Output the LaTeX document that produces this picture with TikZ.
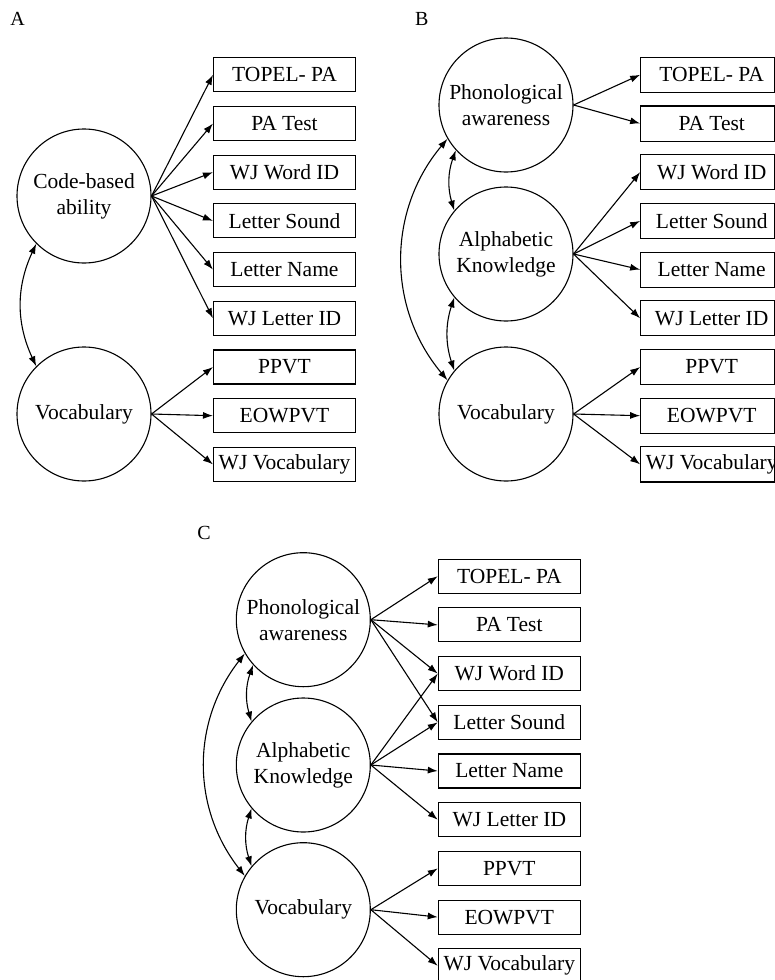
\documentclass[tikz,border=0pt]{standalone}
\usepackage{fontspec}
\setmainfont{Liberation Serif}
\usetikzlibrary{arrows.meta}
\begin{document}
\begin{tikzpicture}[x=1pt,y=1pt,
  lat/.style={circle,draw,line width=1.1pt,minimum size=134pt,inner sep=0pt,align=center,font=\fontsize{21.5}{26}\selectfont},
  ind/.style={rectangle,draw,line width=1.1pt,minimum width=142pt,minimum height=34pt,inner sep=0pt,font=\fontsize{21.5}{25}\selectfont},
  indB/.style={ind,draw=none},
  load/.style={-{Latex[length=10pt,width=7pt]},line width=1.1pt},
  cov/.style={{Latex[length=10pt,width=7pt]}-{Latex[length=10pt,width=7pt]},line width=1.1pt},
  plabel/.style={font=\fontsize{20}{22}\selectfont}]
\useasboundingbox (0,0) rectangle (775,-980);

% ---------------- Panel A ----------------
\node[plabel] (labA) at (17.5,-19) {A};
\node[lat] (a1) at (84,-196) {Code-based\\ability};
\node[lat] (a2) at (84,-414) {Vocabulary};
\node[ind] (aT1) at (284.5,-74.8) {TOPEL- PA};
\node[ind] (aT2) at (284.5,-123.5) {PA Test};
\node[ind] (aT3) at (284.5,-172.2) {WJ Word ID};
\node[ind] (aT4) at (284.5,-220.9) {Letter Sound};
\node[ind] (aT5) at (284.5,-269.6) {Letter Name};
\node[ind] (aT6) at (284.5,-318.3) {WJ Letter ID};
\node[ind] (aT7) at (284.5,-367.0) {PPVT};
\node[ind] (aT8) at (284.5,-415.7) {EOWPVT};
\node[ind] (aT9) at (284.5,-464.4) {WJ Vocabulary};
\foreach \t in {aT1,aT2,aT3,aT4,aT5,aT6} \draw[load] (a1.east) -- (\t.west);
\foreach \t in {aT7,aT8,aT9} \draw[load] (a2.east) -- (\t.west);
\draw[cov] (a1.225) to[bend right=25] (a2.135);

% ---------------- Panel B ----------------
\node[plabel] (labB) at (421.7,-19) {B};
\node[lat] (b1) at (506,-105) {Phonological\\awareness};
\node[lat] (b2) at (506,-254) {Alphabetic\\Knowledge};
\node[lat] (b3) at (506,-414) {Vocabulary};
\node[indB] (bT1) at (711.7,-74.8) {TOPEL- PA};
\node[indB] (bT2) at (711.7,-123.5) {PA Test};
\node[indB] (bT3) at (711.7,-172.2) {WJ Word ID};
\node[indB] (bT4) at (711.7,-220.9) {Letter Sound};
\node[indB] (bT5) at (711.7,-269.6) {Letter Name};
\node[indB] (bT6) at (711.7,-318.3) {WJ Letter ID};
\node[indB] (bT7) at (711.7,-367.0) {PPVT};
\node[indB] (bT8) at (711.7,-415.7) {EOWPVT};
\node[indB] (bT9) at (711.7,-464.4) {WJ Vocabulary};
\foreach \t in {bT1,bT2,bT3,bT4,bT5,bT6,bT7,bT8,bT9}
  \draw[line width=1.1pt] (\t.south west) rectangle ([xshift=-8.5pt]\t.north east);
\foreach \t in {bT1,bT2} \draw[load] (b1.east) -- (\t.west);
\foreach \t in {bT3,bT4,bT5,bT6} \draw[load] (b2.east) -- (\t.west);
\foreach \t in {bT7,bT8,bT9} \draw[load] (b3.east) -- (\t.west);
\draw[cov] (b1.222) to[bend right=18] (b2.140);
\draw[cov] (b2.220) to[bend right=18] (b3.140);
\draw[cov] (b1.210) to[bend right=40] (b3.150);

% ---------------- Panel C ----------------
\node[plabel] (labC) at (204,-533) {C};
\node[lat] (c1) at (303.3,-619.7) {Phonological\\awareness};
\node[lat] (c2) at (303.3,-765) {Alphabetic\\Knowledge};
\node[lat] (c3) at (303.3,-909.7) {Vocabulary};
\node[ind] (cT1) at (509.3,-576.2) {TOPEL- PA};
\node[ind] (cT2) at (509.3,-624.9) {PA Test};
\node[ind] (cT3) at (509.3,-673.6) {WJ Word ID};
\node[ind] (cT4) at (509.3,-722.3) {Letter Sound};
\node[ind] (cT5) at (509.3,-771.0) {Letter Name};
\node[ind] (cT6) at (509.3,-819.7) {WJ Letter ID};
\node[ind] (cT7) at (509.3,-868.4) {PPVT};
\node[ind] (cT8) at (509.3,-917.1) {EOWPVT};
\node[ind] (cT9) at (509.3,-965.8) {WJ Vocabulary};
\foreach \t in {cT1,cT2,cT3,cT4} \draw[load] (c1.east) -- (\t.west);
\foreach \t in {cT3,cT4,cT5,cT6} \draw[load] (c2.east) -- (\t.west);
\foreach \t in {cT7,cT8,cT9} \draw[load] (c3.east) -- (\t.west);
\draw[cov] (c1.222) to[bend right=18] (c2.140);
\draw[cov] (c2.220) to[bend right=18] (c3.140);
\draw[cov] (c1.210) to[bend right=38] (c3.150);
\end{tikzpicture}
\end{document}
